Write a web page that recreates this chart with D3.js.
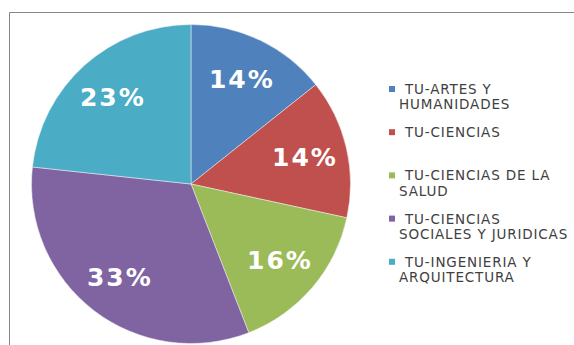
<!DOCTYPE html>
<html><head><meta charset="utf-8">
<script src="https://cdn.jsdelivr.net/npm/d3@7"></script>
<style>body{margin:0;background:#fff}svg{display:block}</style>
</head><body>
<svg id="c" width="574" height="345"></svg>
<script>
const categories = ["TU-ARTES Y HUMANIDADES","TU-CIENCIAS","TU-CIENCIAS DE LA SALUD","TU-CIENCIAS SOCIALES Y JURIDICAS","TU-INGENIERIA Y ARQUITECTURA"];
const values = [14.3, 14.1, 15.7, 32.6, 23.3];
const labels = ["14%","14%","16%","33%","23%"];
const legendLines = [["TU-ARTES Y","HUMANIDADES"],["TU-CIENCIAS"],["TU-CIENCIAS DE LA","SALUD"],["TU-CIENCIAS","SOCIALES Y JURIDICAS"],["TU-INGENIERIA Y","ARQUITECTURA"]];
const colors = ["#4F81BD","#C0504D","#9BBB59","#8064A2","#4BACC6"];

const svg = d3.select("#c");
// frame
svg.append("path").attr("d","M9.5,345 V12.5 H574").attr("fill","none").attr("stroke","#878787").attr("stroke-width",1);

const cx = 191, cy = 184, R = 159.5;
const g = svg.append("g").attr("transform",`translate(${cx},${cy})`);
const pie = d3.pie().sort(null).value(d=>d)(values);
const arc = d3.arc().innerRadius(0).outerRadius(R);
const labelArc = d3.arc().innerRadius(117).outerRadius(117);
g.selectAll("path.s").data(pie).join("path").attr("class","s")
  .attr("d",arc).attr("fill",(d,i)=>colors[i]).attr("stroke","#f4f4f4").attr("stroke-width",0.5);
g.selectAll("text").data(pie).join("text")
  .attr("transform",d=>`translate(${labelArc.centroid(d)})`)
  .attr("text-anchor","middle").attr("dy","0.36em")
  .attr("font-family","DejaVu Sans, Verdana, sans-serif").attr("font-weight","bold")
  .attr("font-size",25).attr("letter-spacing",2).attr("fill","#fff")
  .text((d,i)=>labels[i]);

// legend
const lg = svg.append("g");
legendLines.forEach((lines,i)=>{
  const base = 94 + i*43.2;
  lg.append("rect").attr("x",389).attr("y",base-8).attr("width",6).attr("height",6).attr("fill",colors[i]);
  lines.forEach((t,j)=>{
    lg.append("text").attr("x",j===0?405:399).attr("y",base + j*15.3)
      .attr("font-family","DejaVu Sans, Verdana, sans-serif").attr("font-size",13.5)
      .attr("letter-spacing",0.85).attr("fill","#404040")
      .text(t);
  });
});
</script>
</body></html>
